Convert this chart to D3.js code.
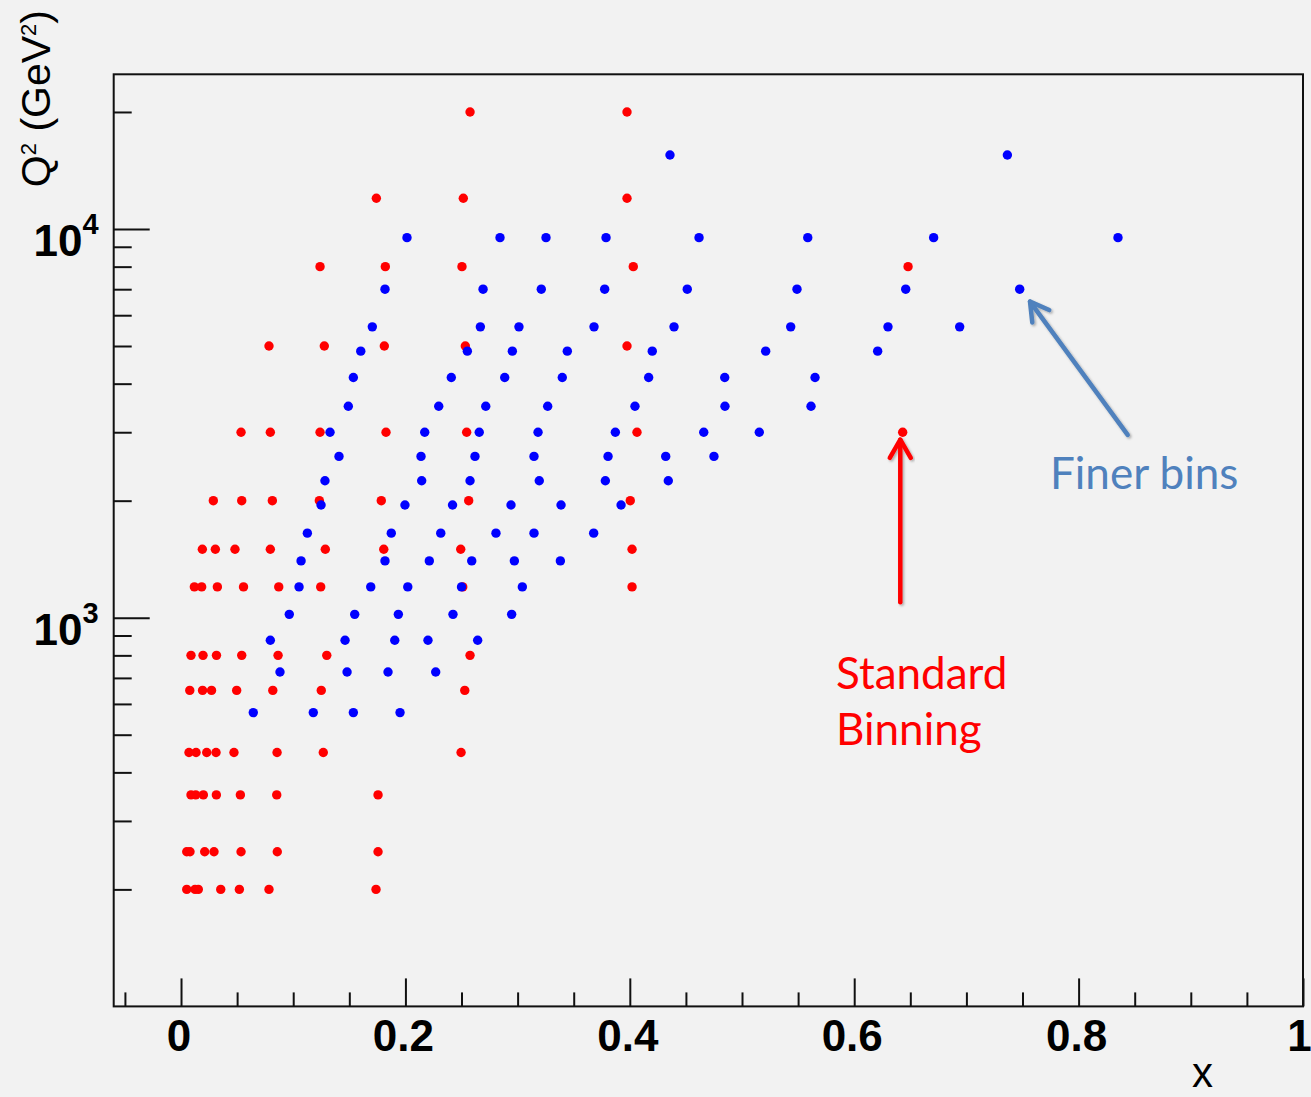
<!DOCTYPE html>
<html>
<head>
<meta charset="utf-8">
<script src="https://cdn.jsdelivr.net/npm/d3@7/dist/d3.min.js"></script>
<style>
  body { margin: 0; background: #f2f2f2; }
  svg { display: block; }
</style>
</head>
<body>
<div id="chart-area"></div>
<script>
// standard binning (red): one Q2 value per row, x values of the points in that row
let redQ2 = [200, 250, 350, 450, 650, 800, 1200, 1500, 2000, 3000, 5000, 8000, 12000, 20000];
let redX = [
  [0.0051, 0.0125, 0.0154, 0.0354, 0.0520, 0.0784, 0.1738],
  [0.0051, 0.0080, 0.0211, 0.0294, 0.0535, 0.0858, 0.1756],
  [0.0089, 0.0131, 0.0199, 0.0315, 0.0529, 0.0853, 0.1756],
  [0.0071, 0.0134, 0.0229, 0.0312, 0.0472, 0.0856, 0.1268, 0.2496],
  [0.0078, 0.0192, 0.0272, 0.0496, 0.0818, 0.1250, 0.2529],
  [0.0089, 0.0196, 0.0316, 0.0541, 0.0865, 0.1299, 0.2576],
  [0.0119, 0.0184, 0.0324, 0.0557, 0.0871, 0.1245, 0.2511, 0.4020],
  [0.0190, 0.0306, 0.0481, 0.0796, 0.1286, 0.1807, 0.2493, 0.4020],
  [0.0288, 0.0541, 0.0814, 0.1233, 0.1785, 0.2564, 0.4004],
  [0.0535, 0.0796, 0.1239, 0.1827, 0.2546, 0.4064, 0.6432],
  [0.0784, 0.1277, 0.1812, 0.2534, 0.3975],
  [0.1239, 0.1821, 0.2504, 0.4031, 0.6480],
  [0.1741, 0.2516, 0.3975],
  [0.2576, 0.3975]
];

// finer bins (blue)
let blueQ2 = [570, 725, 875, 1020, 1200, 1400, 1650, 1950, 2250, 2600, 3000, 3500, 4150, 4850, 5600, 7000, 9500, 15500];
let blueX = [
  [0.0644, 0.1179, 0.1536, 0.1952],
  [0.0882, 0.1480, 0.1845, 0.2270],
  [0.0796, 0.1462, 0.1905, 0.2201, 0.2644],
  [0.0965, 0.1548, 0.1937, 0.2424, 0.2947],
  [0.1052, 0.1691, 0.2021, 0.2500, 0.3042],
  [0.1070, 0.1818, 0.2213, 0.2591, 0.2971, 0.3381],
  [0.1126, 0.1874, 0.2315, 0.2807, 0.3146, 0.3678],
  [0.1248, 0.1996, 0.2420, 0.2941, 0.3387, 0.3922],
  [0.1283, 0.2145, 0.2576, 0.3193, 0.3782, 0.4343],
  [0.1408, 0.2139, 0.2620, 0.3146, 0.3806, 0.4320, 0.4750],
  [0.1328, 0.2172, 0.2658, 0.3182, 0.3871, 0.4659, 0.5154],
  [0.1491, 0.2297, 0.2716, 0.3268, 0.4046, 0.4848, 0.5615],
  [0.1536, 0.2409, 0.2885, 0.3398, 0.4168, 0.4846, 0.5651],
  [0.1602, 0.2552, 0.2953, 0.3443, 0.4200, 0.5211, 0.6209],
  [0.1705, 0.2668, 0.3012, 0.3681, 0.4394, 0.5434, 0.6301, 0.6940],
  [0.1818, 0.2692, 0.3211, 0.3776, 0.4512, 0.5490, 0.6459, 0.7475],
  [0.2014, 0.2843, 0.3253, 0.3788, 0.4617, 0.5586, 0.6708, 0.8351],
  [0.4358, 0.7365]
];

// axis ticks
let xMajorTicks = [0, 0.2, 0.4, 0.6, 0.8, 1];
let xTickLabels = ["0", "0.2", "0.4", "0.6", "0.8", "1"];
let xMinorTicks = [-0.05, 0.05, 0.1, 0.15, 0.25, 0.3, 0.35, 0.45, 0.5, 0.55, 0.65, 0.7, 0.75, 0.85, 0.9, 0.95];
let yMajorTicks = [1000, 10000];
let yTickExp = ["3", "4"];
let yMinorTicks = [200, 300, 400, 500, 600, 700, 800, 900, 2000, 3000, 4000, 5000, 6000, 7000, 8000, 9000, 20000];

let width = 1311,
    height = 1097;

let svg = d3.select("#chart-area").append("svg")
    .attr("width", width)
    .attr("height", height);

svg.append("rect")
    .attr("width", width)
    .attr("height", height)
    .attr("fill", "#f2f2f2");

let defs = svg.append("defs");
defs.append("filter")
    .attr("id", "shadow")
    .attr("x", "-20%").attr("y", "-20%")
    .attr("width", "140%").attr("height", "140%")
    .append("feDropShadow")
    .attr("dx", 1.5).attr("dy", 1.5)
    .attr("stdDeviation", 1.2)
    .attr("flood-color", "#000")
    .attr("flood-opacity", 0.3);

let x = d3.scaleLinear()
    .domain([-0.06, 1])
    .range([113.7, 1303]);

let y = d3.scaleLog()
    .domain([100, 25000])
    .range([1006.4, 74.3]);

let bottomY = y.range()[0], topY = y.range()[1];
let leftX = x.range()[0], rightX = x.range()[1];

// flatten rows into points
function toPoints(q2s, xs) {
    let pts = [];
    q2s.forEach((q, i) => {
        xs[i].forEach(v => pts.push({ x: v, q2: q }));
    });
    return pts;
}
let redPoints = toPoints(redQ2, redX);
let bluePoints = toPoints(blueQ2, blueX);

// ---- axes (ROOT style, ticks inside the frame)
let tickFont = "'Liberation Sans', Arial, Helvetica, sans-serif";

let xAxisMinor = svg.append("g")
    .attr("transform", "translate(0," + bottomY + ")")
    .call(d3.axisBottom(x).tickValues(xMinorTicks).tickSize(-14).tickSizeOuter(0).tickFormat(""));
xAxisMinor.select(".domain").remove();

let xAxis = svg.append("g")
    .attr("transform", "translate(0," + bottomY + ")")
    .call(d3.axisBottom(x).tickValues(xMajorTicks).tickSize(-28).tickSizeOuter(0)
        .tickPadding(13)
        .tickFormat((d, i) => xTickLabels[i]));
xAxis.select(".domain").remove();
xAxis.selectAll("text")
    .attr("dx", (d, i) => i === xTickLabels.length - 1 ? -4 : -2.5)
    .attr("font-family", tickFont)
    .attr("font-weight", "bold")
    .attr("font-size", 44)
    .attr("fill", "#000");

let yAxisMinor = svg.append("g")
    .attr("transform", "translate(" + leftX + ",0)")
    .call(d3.axisLeft(y).tickValues(yMinorTicks).tickSize(-18).tickSizeOuter(0).tickFormat(""));
yAxisMinor.select(".domain").remove();

let yAxis = svg.append("g")
    .attr("transform", "translate(" + leftX + ",0)")
    .call(d3.axisLeft(y).tickValues(yMajorTicks).tickSize(-36).tickSizeOuter(0).tickFormat(""));
yAxis.select(".domain").remove();

[xAxisMinor, xAxis, yAxisMinor, yAxis].forEach(g => {
    g.selectAll("line").attr("stroke", "#111").attr("stroke-width", 2);
});

// y labels as 10^n
yAxis.selectAll(".tick").each(function (d, i) {
    let t = d3.select(this).append("text")
        .attr("x", -15)
        .attr("y", 26.5)
        .attr("text-anchor", "end")
        .attr("font-family", tickFont)
        .attr("font-weight", "bold")
        .attr("fill", "#000");
    t.append("tspan").attr("font-size", 44).text("10");
    t.append("tspan").attr("font-size", 29).attr("dy", -21.5).text(yTickExp[i]);
});

// frame
svg.append("rect")
    .attr("x", leftX)
    .attr("y", topY)
    .attr("width", rightX - leftX)
    .attr("height", bottomY - topY)
    .attr("fill", "none")
    .attr("stroke", "#111")
    .attr("stroke-width", 2);

// axis titles
let yTitle = svg.append("text")
    .attr("transform", "translate(50,10) rotate(-90)")
    .attr("text-anchor", "end")
    .attr("font-family", tickFont)
    .attr("font-size", 41)
    .attr("fill", "#000");
yTitle.append("tspan").text("Q");
yTitle.append("tspan").attr("font-size", 22).attr("dy", -14).text("2");
yTitle.append("tspan").attr("dy", 14).text(" (GeV");
yTitle.append("tspan").attr("font-size", 22).attr("dy", -14).text("2");
yTitle.append("tspan").attr("dy", 14).text(")");

svg.append("text")
    .attr("x", 1213)
    .attr("y", 1087)
    .attr("text-anchor", "end")
    .attr("font-family", tickFont)
    .attr("font-size", 42)
    .attr("fill", "#000")
    .text("x");

// ---- points
svg.selectAll(".red-dot")
    .data(redPoints)
    .enter()
    .append("circle")
    .attr("class", "red-dot")
    .attr("cx", d => x(d.x))
    .attr("cy", d => y(d.q2))
    .attr("r", 4.7)
    .attr("fill", "#ff0000");

svg.selectAll(".blue-dot")
    .data(bluePoints)
    .enter()
    .append("circle")
    .attr("class", "blue-dot")
    .attr("cx", d => x(d.x))
    .attr("cy", d => y(d.q2))
    .attr("r", 4.7)
    .attr("fill", "#0000ff");

// ---- annotations (arrows point at a chosen data point)
function arrow(tipX, tipY, tailX, tailY, color) {
    let dx = tailX - tipX, dy = tailY - tipY;
    let len = Math.sqrt(dx * dx + dy * dy);
    let ux = dx / len, uy = dy / len;
    let wing = 21, ang = Math.PI / 6;
    let w1 = [tipX + wing * (ux * Math.cos(ang) - uy * Math.sin(ang)), tipY + wing * (ux * Math.sin(ang) + uy * Math.cos(ang))];
    let w2 = [tipX + wing * (ux * Math.cos(-ang) - uy * Math.sin(-ang)), tipY + wing * (ux * Math.sin(-ang) + uy * Math.cos(-ang))];
    let g = svg.append("g").attr("filter", "url(#shadow)");
    g.append("line")
        .attr("x1", tailX).attr("y1", tailY)
        .attr("x2", tipX).attr("y2", tipY)
        .attr("stroke", color).attr("stroke-width", 4.5)
        .attr("stroke-linecap", "round");
    g.append("path")
        .attr("d", "M" + w1 + "L" + tipX + "," + tipY + "L" + w2)
        .attr("fill", "none")
        .attr("stroke", color).attr("stroke-width", 4.5)
        .attr("stroke-linecap", "round")
        .attr("stroke-linejoin", "round");
}

let redTarget = { x: 0.6432, q2: 3000 };
let rx = x(redTarget.x), ry = y(redTarget.q2);
arrow(rx - 2.4, ry + 7.5, rx - 2.4, ry + 170, "#ff0000");

let blueTarget = { x: 0.7475, q2: 7000 };
let bx = x(blueTarget.x), by = y(blueTarget.q2);
arrow(bx + 10.3, by + 12.4, bx + 108, by + 145.7, "#4f81bd");

let noteFont = "Lato, 'Open Sans', sans-serif";
let std = svg.append("text")
    .attr("font-family", noteFont)
    .attr("font-size", 44)
    .attr("fill", "#ff0000");
std.append("tspan").attr("x", 836).attr("y", 689).text("Standard");
std.append("tspan").attr("x", 836).attr("y", 745).text("Binning");

svg.append("text")
    .attr("x", 1050)
    .attr("y", 489)
    .attr("font-family", noteFont)
    .attr("font-size", 44)
    .attr("fill", "#4f81bd")
    .text("Finer bins");
</script>
</body>
</html>
